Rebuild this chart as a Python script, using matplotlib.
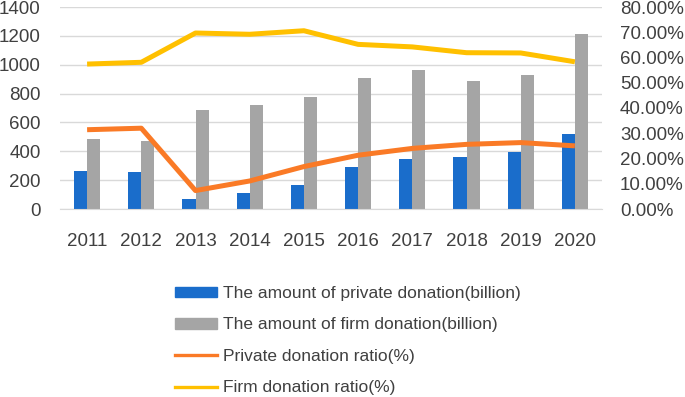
import numpy as np
import matplotlib.pyplot as plt
from matplotlib.lines import Line2D
from matplotlib.patches import Patch

plt.rcParams['font.family'] = ['Liberation Sans', 'DejaVu Sans']

years = ['2011', '2012', '2013', '2014', '2015', '2016', '2017', '2018', '2019', '2020']
private_amount = [263, 259, 69, 113, 166, 289, 347, 358, 393, 520]
firm_amount = [483, 471, 686, 719, 778, 906, 961, 889, 929, 1215]
private_ratio = [31.4, 32.0, 7.3, 11.1, 16.8, 21.3, 24.0, 25.6, 26.3, 25.0]
firm_ratio = [57.4, 58.1, 69.7, 69.2, 70.6, 65.2, 64.2, 61.9, 61.8, 58.3]

blue = '#1A6DCB'
grey = '#A5A5A5'
orange = '#FA7A26'
yellow = '#FFC000'
txt = '#404040'

x = np.arange(len(years))
w = 0.24

fig = plt.figure(figsize=(6.85, 3.97), dpi=100)
ax = fig.add_axes([60 / 685, 1 - 209 / 397, 542 / 685, 202 / 397])
ax2 = ax.twinx()

ax.bar(x - w / 2, private_amount, w, color=blue, zorder=2)
ax.bar(x + w / 2, firm_amount, w, color=grey, zorder=2)
ax2.plot(x, private_ratio, color=orange, lw=3.6, solid_capstyle='butt')
ax2.plot(x, firm_ratio, color=yellow, lw=3.6, solid_capstyle='butt')

ax.set_xlim(-0.5, 9.5)
ax.set_ylim(0, 1400)
ax.set_yticks(range(0, 1401, 200))
ax2.set_ylim(0, 80)
ax2.set_yticks(range(0, 81, 10))
ax2.set_yticklabels(['%.2f%%' % v for v in range(0, 81, 10)])
ax.set_xticks(x)
ax.set_xticklabels(years)

ax.grid(axis='y', color='#D9D9D9', lw=1, zorder=0)
ax.set_axisbelow(True)
for a in (ax, ax2):
    for s in a.spines.values():
        s.set_visible(False)
    a.tick_params(length=0, labelsize=13.5, colors=txt)
ax.spines['bottom'].set_visible(True)
ax.spines['bottom'].set_color('#D9D9D9')
ax.tick_params(axis='y', pad=14)
ax.tick_params(axis='x', pad=17)
ax2.tick_params(axis='y', pad=13)

handles = [
    Patch(color=blue, label='The amount of private donation(billion)'),
    Patch(color=grey, label='The amount of firm donation(billion)'),
    Line2D([], [], color=orange, lw=2.4, label='Private donation ratio(%)'),
    Line2D([], [], color=yellow, lw=2.4, label='Firm donation ratio(%)'),
]
leg = fig.legend(handles=handles, loc='upper left', bbox_to_anchor=(175 / 685, 1 - 286 / 397),
                 frameon=False, fontsize=12.5, handlelength=2.4, handleheight=0.55,
                 handletextpad=0.35, labelspacing=0.95, borderaxespad=0, borderpad=0)
for t in leg.get_texts():
    t.set_color(txt)

fig.savefig('out.png', dpi=100)
